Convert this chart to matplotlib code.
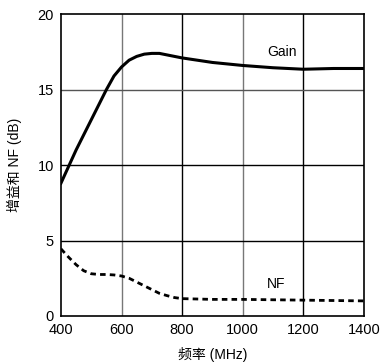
import numpy as np
import matplotlib
matplotlib.use("Agg")
import matplotlib.pyplot as plt

plt.rcParams['font.family'] = ['Liberation Sans', 'Noto Sans CJK SC']

# 频率 (MHz)
gain_freq = [400, 450, 500, 550, 575, 600, 625, 650, 675, 700, 725, 750, 775, 800,
             900, 1000, 1100, 1200, 1300, 1400]
gain_db = [8.8, 11.0, 13.0, 15.0, 15.9, 16.5, 16.95, 17.2, 17.35, 17.4, 17.4, 17.3, 17.2, 17.1,
           16.8, 16.6, 16.45, 16.35, 16.4, 16.4]

nf_freq = [400, 425, 450, 475, 500, 525, 550, 575, 600, 625, 650, 675, 700, 725, 750, 775, 800,
           900, 1000, 1200, 1400]
nf_db = [4.45, 3.9, 3.4, 3.0, 2.8, 2.75, 2.75, 2.72, 2.65, 2.5, 2.25, 2.0, 1.75, 1.5, 1.35, 1.22, 1.15,
         1.1, 1.1, 1.05, 1.0]

x_ticks = [400, 600, 800, 1000, 1200, 1400]
y_ticks = [0, 5, 10, 15, 20]

fig = plt.figure(figsize=(3.81, 3.63), dpi=100)
ax = fig.add_axes([0.160, 0.1295, 0.795, 0.8315])

# grid lines, alternating grey / black like the original
for x, c in zip(x_ticks[1:-1], ['#777777', 'black', '#777777', 'black']):
    ax.axvline(x, color=c, lw=1.0, zorder=1)
for y, c in zip(y_ticks[1:-1], ['black', 'black', '#555555']):
    ax.axhline(y, color=c, lw=1.0, zorder=1)

ax.plot(gain_freq, gain_db, color='black', lw=2.2, solid_joinstyle='round', zorder=3)
ax.plot(nf_freq, nf_db, color='black', lw=2.0, linestyle=(0, (2.0, 1.5)), zorder=3)

ax.text(1130, 17.5, 'Gain', fontsize=10, ha='center', va='center')
ax.text(1110, 2.1, 'NF', fontsize=10, ha='center', va='center')

ax.set_xlim(400, 1400)
ax.set_ylim(0, 20)
ax.set_xticks(x_ticks)
ax.set_yticks(y_ticks)
ax.tick_params(length=0, labelsize=10.5)
ax.tick_params(axis='x', pad=5)
ax.tick_params(axis='y', pad=5)
for s in ax.spines.values():
    s.set_linewidth(1.2)

ax.set_xlabel('频率 (MHz)', fontsize=10, labelpad=7)
ax.set_ylabel('增益和 NF (dB)', fontsize=10, labelpad=11)

fig.savefig('out.png', dpi=100)
